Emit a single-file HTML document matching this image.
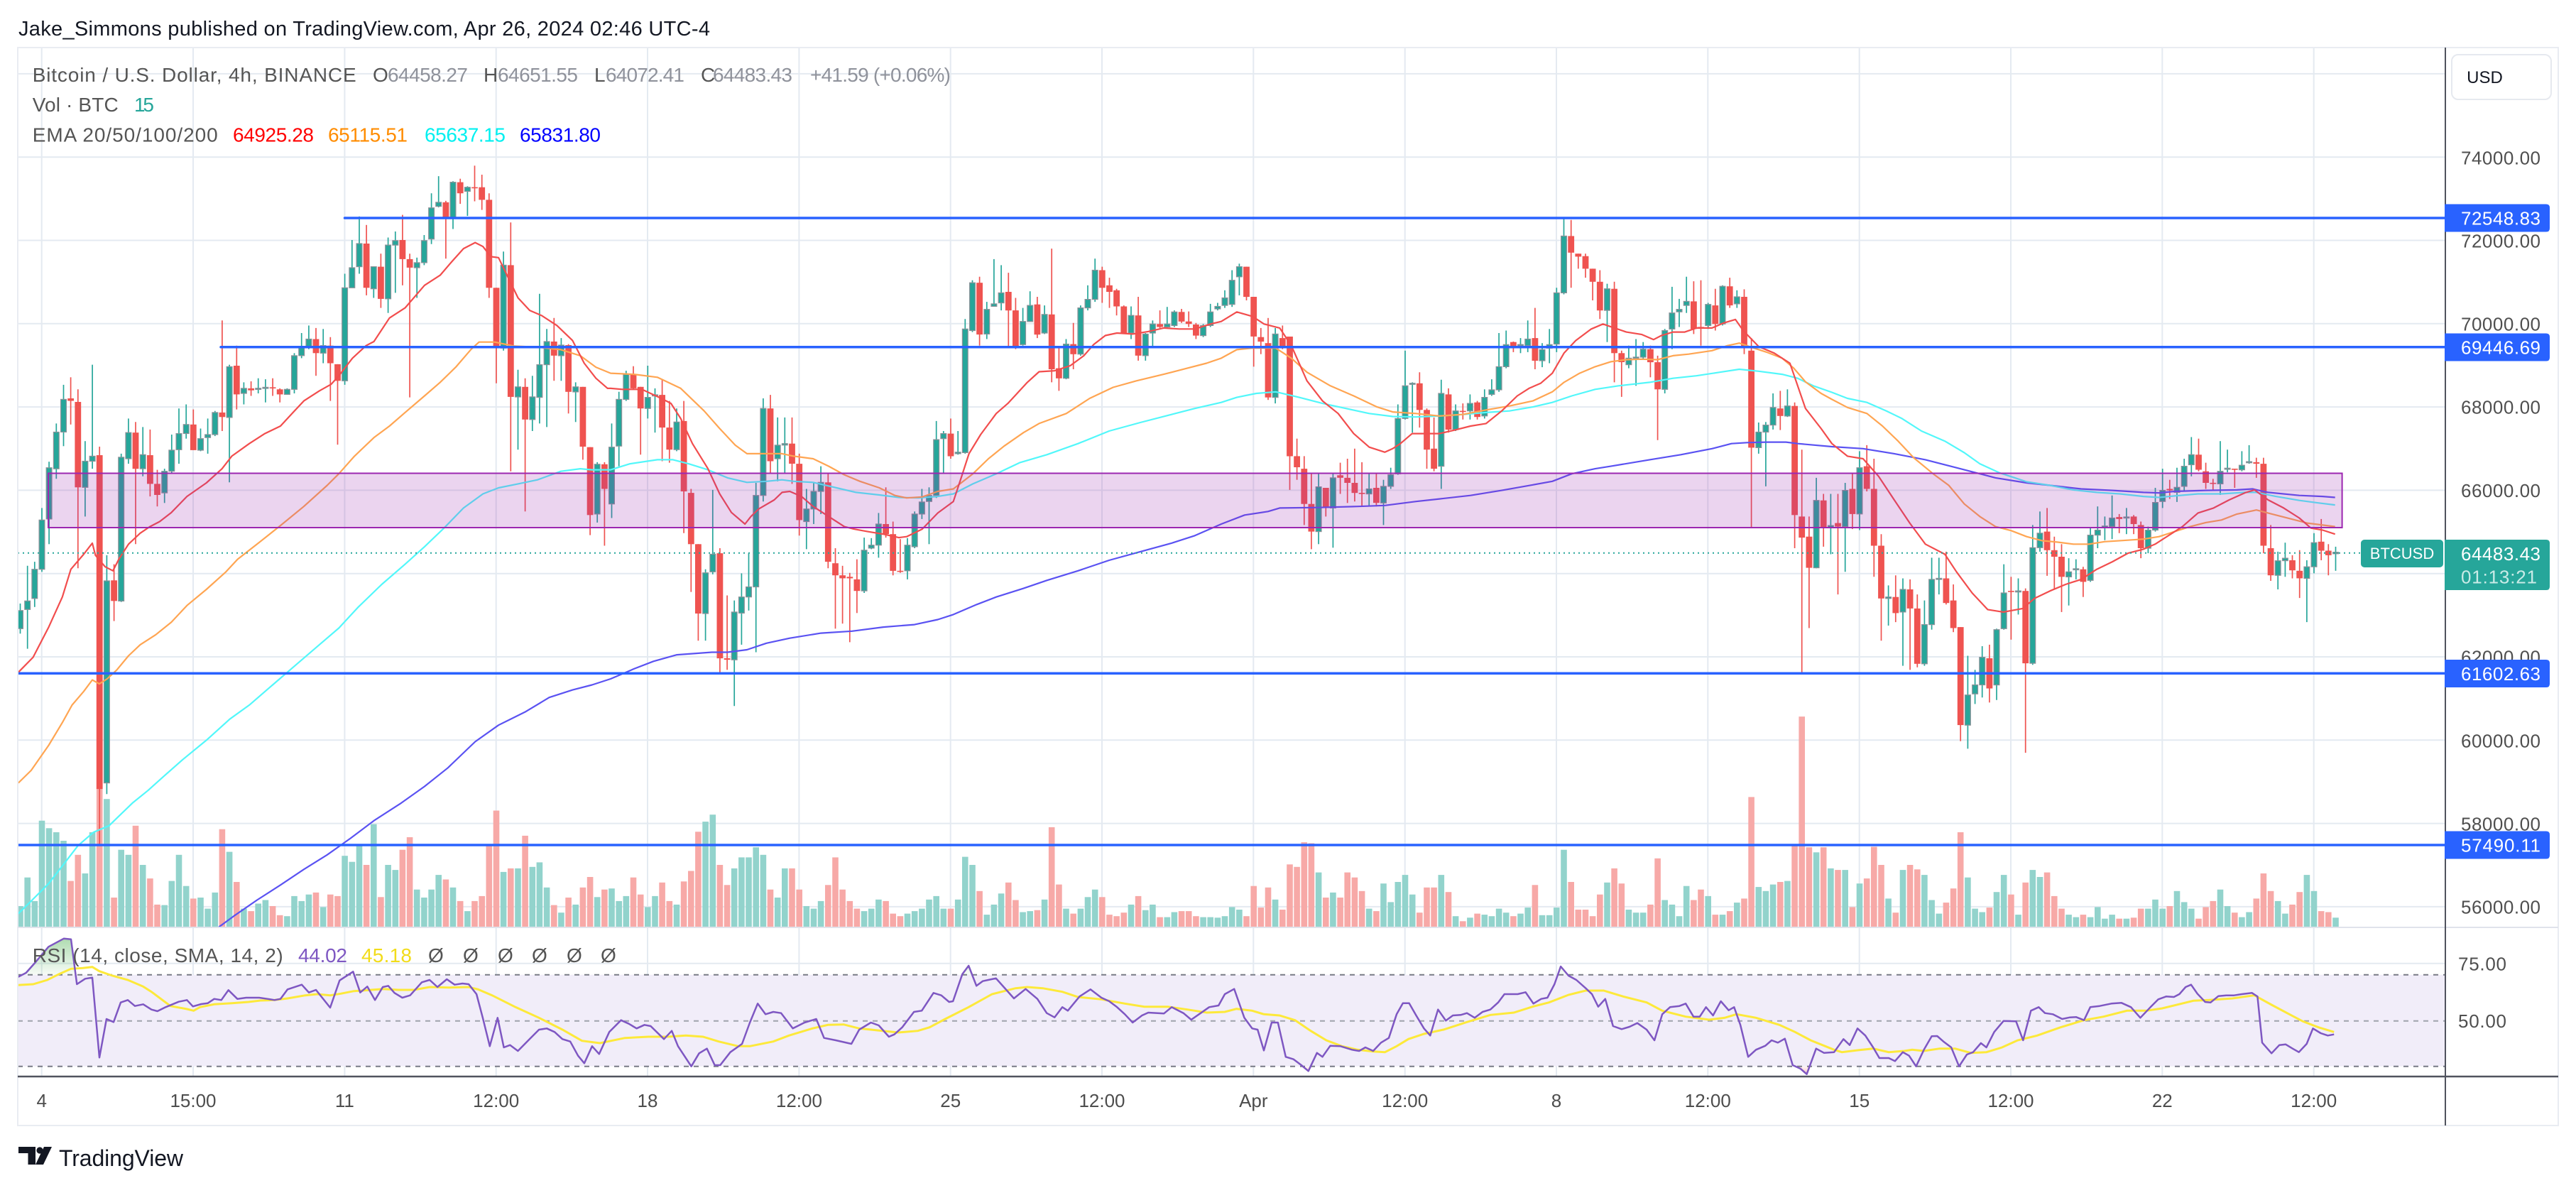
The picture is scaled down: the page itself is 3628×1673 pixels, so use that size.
<!DOCTYPE html>
<html><head><meta charset="utf-8">
<style>
html,body{margin:0;padding:0;background:#fff;}
body{width:3628px;height:1673px;overflow:hidden;}
svg{display:block;font-family:"Liberation Sans",sans-serif;}
</style></head>
<body>
<svg id="s" width="3628" height="1673" viewBox="0 0 3628 1673" xmlns="http://www.w3.org/2000/svg">
<defs>
<clipPath id="mc"><rect x="25" y="68" width="3419" height="1237"/></clipPath>
<clipPath id="rc"><rect x="25" y="1307" width="3419" height="209"/></clipPath>
<clipPath id="obc"><rect x="25" y="1300" width="3419" height="72.7"/></clipPath>
<clipPath id="osc"><rect x="25" y="1501.7" width="3419" height="14"/></clipPath>
<linearGradient id="gg" x1="0" y1="1315" x2="0" y2="1372.7" gradientUnits="userSpaceOnUse">
<stop offset="0" stop-color="#4caf50" stop-opacity="0.5"/><stop offset="1" stop-color="#4caf50" stop-opacity="0.05"/></linearGradient>
<linearGradient id="rg" x1="0" y1="1501.7" x2="0" y2="1516" gradientUnits="userSpaceOnUse">
<stop offset="0" stop-color="#ef5350" stop-opacity="0.05"/><stop offset="1" stop-color="#ef5350" stop-opacity="0.45"/></linearGradient>
</defs>
<rect x="0" y="0" width="3628" height="1673" fill="#fff"/>
<text x="26" y="50" font-size="29" fill="#131722" textLength="974" lengthAdjust="spacing">Jake_Simmons published on TradingView.com, Apr 26, 2024 02:46 UTC-4</text>

<g id="grid" stroke="#e4eaf1" stroke-width="2"></g>

<rect x="25" y="1372.7" width="3419" height="129" fill="#f1edf9"/>
<g stroke-width="2" stroke-dasharray="7,7">
<line x1="25" x2="3444" y1="1372.7" y2="1372.7" stroke="#787b86"/>
<line x1="25" x2="3444" y1="1437.7" y2="1437.7" stroke="#a0a3ac"/>
<line x1="25" x2="3444" y1="1501.7" y2="1501.7" stroke="#787b86"/>
</g>

<g clip-path="url(#mc)">
<g id="vol"></g>
<g id="cdl"></g>
<g id="ema" fill="none" stroke-width="2.2" stroke-linejoin="round"></g>
<rect x="68" y="666.5" width="3230.6" height="76.5" fill="rgba(156,39,176,0.2)" stroke="#9c27b0" stroke-width="2"/>
<g stroke="#2962ff" stroke-width="3.5" stroke-linecap="round">
<line x1="485.5" x2="3444" y1="307" y2="307"/>
<line x1="311" x2="3444" y1="488.8" y2="488.8"/>
<line x1="25" x2="3444" y1="948.3" y2="948.3"/>
<line x1="25" x2="3444" y1="1190" y2="1190"/>
</g>
<line x1="25" x2="3325" y1="778.7" y2="778.7" stroke="#26a69a" stroke-width="2" stroke-dasharray="2,5"/>
</g>

<g clip-path="url(#rc)" id="rsi" fill="none"></g>

<rect x="25" y="67" width="3578" height="1518" fill="none" stroke="#e9ecf2" stroke-width="2"/>
<line x1="25" x2="3603" y1="1306" y2="1306" stroke="#e0e3eb" stroke-width="2"/>
<line x1="25" x2="3603" y1="1516" y2="1516" stroke="#50535e" stroke-width="2.5"/>
<line x1="3444" x2="3444" y1="67" y2="1585" stroke="#50535e" stroke-width="2"/>

<g font-size="28">
<text x="45.7" y="115" fill="#555" textLength="456" lengthAdjust="spacing">Bitcoin / U.S. Dollar, 4h, BINANCE</text>
<text x="525" y="115" fill="#555">O</text><text x="546" y="115" fill="#8f929b" textLength="113" lengthAdjust="spacing">64458.27</text>
<text x="681" y="115" fill="#555">H</text><text x="701" y="115" fill="#8f929b" textLength="113" lengthAdjust="spacing">64651.55</text>
<text x="837" y="115" fill="#555">L</text><text x="853" y="115" fill="#8f929b" textLength="111" lengthAdjust="spacing">64072.41</text>
<text x="987" y="115" fill="#555">C</text><text x="1004" y="115" fill="#8f929b" textLength="112" lengthAdjust="spacing">64483.43</text>
<text x="1141" y="115" fill="#8f929b" textLength="198" lengthAdjust="spacing">+41.59 (+0.06%)</text>
<text x="45.7" y="157" fill="#555" textLength="121" lengthAdjust="spacing">Vol · BTC</text>
<text x="189" y="157" fill="#26a69a" textLength="28" lengthAdjust="spacing">15</text>
<text x="45.7" y="199.5" fill="#555" textLength="261" lengthAdjust="spacing">EMA 20/50/100/200</text>
<text x="328" y="199.5" fill="#ff0000" textLength="114" lengthAdjust="spacing">64925.28</text>
<text x="462" y="199.5" fill="#ff8c00" textLength="112" lengthAdjust="spacing">65115.51</text>
<text x="598" y="199.5" fill="#00f0f0" textLength="114" lengthAdjust="spacing">65637.15</text>
<text x="732" y="199.5" fill="#0000ff" textLength="114" lengthAdjust="spacing">65831.80</text>
<text x="45.7" y="1355" fill="#555" textLength="353" lengthAdjust="spacing">RSI (14, close, SMA, 14, 2)</text>
<text x="420" y="1355" fill="#7e57c2" textLength="69" lengthAdjust="spacing">44.02</text>
<text x="509" y="1355" fill="#f2dc1a" textLength="71" lengthAdjust="spacing">45.18</text>
<text x="603" y="1355" fill="#555">Ø</text><text x="652" y="1355" fill="#555">Ø</text><text x="701" y="1355" fill="#555">Ø</text>
<text x="749" y="1355" fill="#555">Ø</text><text x="798" y="1355" fill="#555">Ø</text><text x="846" y="1355" fill="#555">Ø</text>
</g>

<rect x="3453" y="77" width="140" height="63" rx="9" fill="#fff" stroke="#e6e9ef" stroke-width="2"/>
<text x="3499.5" y="117" font-size="24" fill="#131722" text-anchor="middle">USD</text>
<g font-size="26" fill="#4f4f4f">
<text x="3466" y="231.5" textLength="112" lengthAdjust="spacing">74000.00</text>
<text x="3466" y="348.5" textLength="112" lengthAdjust="spacing">72000.00</text>
<text x="3466" y="465.5" textLength="112" lengthAdjust="spacing">70000.00</text>
<text x="3466" y="582.5" textLength="112" lengthAdjust="spacing">68000.00</text>
<text x="3466" y="700" textLength="112" lengthAdjust="spacing">66000.00</text>
<text x="3466" y="934.5" textLength="112" lengthAdjust="spacing">62000.00</text>
<text x="3466" y="1052.5" textLength="112" lengthAdjust="spacing">60000.00</text>
<text x="3466" y="1169.5" textLength="112" lengthAdjust="spacing">58000.00</text>
<text x="3466" y="1286.5" textLength="112" lengthAdjust="spacing">56000.00</text>
<text x="3462" y="1366.5" textLength="68" lengthAdjust="spacing">75.00</text>
<text x="3462" y="1447" textLength="68" lengthAdjust="spacing">50.00</text>
</g>
<g fill="#2962ff">
<path d="M3443,287.5H3586Q3591,287.5 3591,292.5V321.5Q3591,326.5 3586,326.5H3443Z"/>
<path d="M3443,469.5H3586Q3591,469.5 3591,474.5V503.5Q3591,508.5 3586,508.5H3443Z"/>
<path d="M3443,929H3586Q3591,929 3591,934V963Q3591,968 3586,968H3443Z"/>
<path d="M3443,1170.5H3586Q3591,1170.5 3591,1175.5V1204.5Q3591,1209.5 3586,1209.5H3443Z"/>
</g>
<path d="M3443,760H3586Q3591,760 3591,765V826Q3591,831 3586,831H3443Z" fill="#26a69a"/>
<rect x="3325" y="760" width="116" height="39" rx="5" fill="#26a69a"/>
<g font-size="26" fill="#fff">
<text x="3466" y="316.5" textLength="112" lengthAdjust="spacing">72548.83</text>
<text x="3466" y="498.5" textLength="112" lengthAdjust="spacing">69446.69</text>
<text x="3466" y="958" textLength="112" lengthAdjust="spacing">61602.63</text>
<text x="3466" y="1199.5" textLength="112" lengthAdjust="spacing">57490.11</text>
<text x="3466" y="789" textLength="112" lengthAdjust="spacing">64483.43</text>
<text x="3466" y="821.5" fill="#c9ebe7" textLength="107" lengthAdjust="spacing">01:13:21</text>
</g>
<text x="3383" y="787" font-size="22" fill="#fff" text-anchor="middle">BTCUSD</text>

<g id="tax" font-size="26" fill="#4d4d4d" text-anchor="middle"></g>

<g fill="#131722">
<rect x="26" y="1615" width="24" height="9"/>
<rect x="39.5" y="1615" width="10.5" height="25"/>
<circle cx="56" cy="1620" r="4.6"/>
<path d="M62,1615H73L61,1640H50Z"/>
</g>
<text x="83" y="1642" font-size="32" fill="#131722" textLength="175" lengthAdjust="spacing">TradingView</text>
</svg>

<script>
(function(){
function $(id){return document.getElementById(id);}
var g='';
for(var k=0;k<16;k++){var x=(58.7+213.33*k).toFixed(1);g+='<line x1="'+x+'" x2="'+x+'" y1="68" y2="1515"/>';}
for(var p=76000;p>=56000;p-=2000){var y=(221.2+(74000-p)*0.05865).toFixed(1);g+='<line x1="25" x2="3444" y1="'+y+'" y2="'+y+'"/>';}
g+='<line x1="25" x2="3444" y1="1356.7" y2="1356.7"/>';
$('grid').innerHTML=g;
var L=['4','15:00','11','12:00','18','12:00','25','12:00','Apr','12:00','8','12:00','15','12:00','22','12:00'];
var t='';for(var k=0;k<16;k++){t+='<text x="'+(58.7+213.33*k).toFixed(1)+'" y="1559">'+L[k]+'</text>';}
$('tax').innerHTML=t;

var Z6=[[1,932,968,918,978,1520],[1,913,930,843,1008,1463],[1,850,908,835,925,1510],[1,752,850,728,855,1350],[1,648,750,636,800,1365],[1,577,650,560,670,1373],[1,512,577,483,605,1390],[0,510,515,468,562,1470],[0,517,687,492,848,1418],[1,635,687,595,745,1455],[1,625,635,443,650,1373],[0,623,1287,606,1400,1285],[1,873,1275,822,1297,1307],[0,872,913,840,953,1503],[1,627,913,620,915,1408],[1,578,630,550,640,1418],[0,578,650,557,800,1360],[1,622,650,567,665,1438],[0,623,680,572,705,1465],[0,680,702,652,725,1517],[1,655,698,650,718,1518],[1,613,655,582,660,1470],[1,580,612,530,640,1418],[1,562,580,522,590,1480],[0,562,613,532,613,1505],[1,590,613,570,615,1503],[1,582,588,550,620,1525],[1,538,582,535,585,1493],[0,538,547,355,575,1367],[1,447,548,443,677,1412],[0,445,502,405,532,1472],[1,490,500,478,522,1525],[0,490,494,476,505,1530],[1,490,492,470,500,1515],[1,488,490,472,518,1508],[0,488,490,470,505,1520],[0,492,502,490,518,1538],[1,492,502,490,502,1540],[1,425,492,420,500,1500],[1,408,425,380,430,1510],[1,392,408,365,412,1497],[0,392,420,370,465,1493],[1,405,420,372,440,1522],[0,405,440,388,515,1497],[0,442,475,442,602,1500],[1,290,475,262,483,1420],[1,250,290,195,290,1432],[1,202,248,148,262,1400],[0,202,290,165,305,1438],[1,248,292,248,310,1357],[0,248,312,222,330,1502],[1,205,312,190,340,1438],[1,196,205,178,300,1448],[0,195,233,145,285,1408],[0,233,250,222,508,1383],[1,240,250,230,310,1487],[1,196,240,185,245,1503],[1,131,193,102,203,1487],[1,120,128,68,130,1458],[0,120,150,117,232,1467],[1,80,150,78,173,1483],[0,80,102,73,123,1510],[1,90,98,88,147,1530],[0,90,92,47,118,1510],[0,90,115,65,135,1500],[0,115,290,102,310,1397],[0,290,410,290,480,1330],[1,245,410,218,415,1452],[0,245,507,160,655,1445],[1,487,507,453,612,1445],[0,487,552,470,735,1380],[1,507,552,465,575,1442],[1,443,508,302,560,1433],[1,397,443,372,567,1483],[0,397,425,350,475,1518],[1,404,425,390,475,1533],[0,404,497,402,540,1503],[1,487,497,478,557,1517],[0,487,606,487,632,1483],[0,607,742,607,782,1462],[1,641,740,637,757,1502],[0,641,690,637,803,1487],[1,607,720,560,748,1485]];
var Z7=[[1,512,605,497,645,1510],[1,462,512,455,515,1500],[0,462,490,446,492,1463],[0,487,530,487,622,1497],[1,508,530,445,550,1522],[1,503,505,490,578,1500],[0,503,568,472,635,1473],[0,568,612,515,638,1510],[1,557,612,530,615,1517],[0,555,695,515,778,1471],[0,698,800,690,895,1450],[0,800,938,800,992,1372],[1,857,938,850,992,1352],[1,820,855,692,860,1338],[0,818,1027,808,1058,1438],[0,1027,1030,902,1050,1478],[1,935,1030,912,1122,1445],[1,905,937,858,1000,1423],[1,885,905,818,932,1423],[1,703,885,678,1015,1403],[1,530,703,510,715,1418],[0,530,635,503,660,1487],[1,603,630,548,675,1503],[1,600,603,548,660,1445],[0,600,640,548,680,1445],[0,640,752,620,783,1487],[1,730,755,690,810,1520],[1,695,730,678,760,1525],[1,677,695,645,740,1510],[0,677,835,660,848,1478],[0,838,862,808,968,1423],[0,862,868,843,958,1487],[0,865,868,857,995,1510],[0,870,893,830,937,1525],[1,812,893,787,897,1530],[1,802,808,788,810,1525],[1,760,802,738,827,1507],[0,760,780,687,787,1510],[0,780,853,755,862,1535],[0,853,855,790,857,1540],[1,802,853,788,870,1535],[1,740,805,735,808,1530],[1,716,740,690,750,1525],[1,703,715,687,800,1507],[1,592,703,555,708,1500],[1,580,590,575,658,1525],[0,580,625,550,630,1525],[1,617,620,575,622,1507],[1,372,618,352,620,1422],[1,280,375,275,378,1438],[0,280,383,268,405,1490],[1,333,382,318,392,1537],[1,322,327,233,325,1517],[1,300,320,245,335,1495],[0,298,335,260,408,1473],[0,335,407,310,412,1508],[1,357,403,330,405,1532],[1,325,357,297,355,1530],[0,323,383,308,390,1528],[1,343,380,325,382,1507],[0,343,452,212,478,1363],[0,450,470,410,495,1477],[1,402,470,392,472,1525],[0,402,422,360,452,1535],[1,330,422,325,425,1525],[1,313,330,285,335,1502],[1,255,313,232,318,1487],[0,255,290,248,320,1502],[0,285,298,270,330,1537],[0,295,327,292,345,1540],[0,327,380,325,380,1533],[1,345,380,327,392,1517],[0,345,425,308,435,1500],[1,382,425,380,435,1528],[1,362,380,355,410,1517],[0,362,368,335,370,1542],[1,362,368,328,370,1542],[1,338,365,335,368,1532],[0,338,357,332,360,1530],[0,357,362,337,368,1530],[0,363,385,360,392,1540],[1,365,385,362,388,1542],[1,338,365,322,368,1542],[1,327,332,320,335,1543],[1,310,325,295,330,1540]];
var Z8=[[1,275,323,255,328,1522],[1,248,268,242,305,1527],[0,248,308,248,315,1540],[0,308,387,308,447,1480],[0,388,397,370,422,1523],[0,400,508,350,513,1483],[1,382,508,370,520,1507],[0,390,410,365,412,1527],[0,387,625,387,692,1437],[0,625,647,590,672,1442],[0,650,720,625,762,1393],[0,720,775,660,810,1395],[1,686,775,660,800,1453],[0,688,728,688,745,1503],[1,668,728,660,807,1493],[0,663,668,638,700,1503],[0,668,678,630,718,1453],[0,678,698,610,715,1463],[0,698,700,637,725,1490],[1,690,700,660,725,1525],[0,688,718,660,725,1530],[1,685,718,672,762,1475],[1,662,685,648,690,1512],[1,550,660,522,662,1472],[1,485,550,415,552,1458],[1,480,482,478,578,1497],[0,480,533,458,568,1533],[0,533,612,530,650,1483],[0,610,650,548,655,1483],[1,500,645,473,690,1458],[0,502,572,490,578,1492],[1,535,572,522,575,1540],[0,535,537,520,552,1550],[1,520,535,502,552,1543],[0,518,547,515,552,1535],[1,508,545,492,550,1537],[1,493,502,472,505,1540],[1,447,493,380,497,1525],[1,403,447,375,450,1533],[0,398,408,397,418,1540],[1,403,405,390,420,1535],[1,392,405,355,418,1523],[0,390,435,330,452,1478],[1,413,435,400,448,1538],[1,403,410,372,440,1538],[1,300,402,290,418,1523],[1,187,300,152,303,1408],[0,187,220,155,290,1472],[0,222,228,222,252,1527],[0,227,252,222,270,1527],[0,252,278,252,315,1540],[0,278,335,255,352,1497],[1,292,335,282,398,1473],[0,292,420,278,478,1445],[0,420,438,415,507,1475],[1,430,443,405,450,1527],[1,428,430,392,485,1533],[1,412,428,398,432,1533],[0,412,438,405,468,1517],[0,438,492,425,593,1425],[1,375,492,372,500,1508],[1,340,372,288,412,1517],[1,333,338,312,368,1540],[1,317,325,268,340,1480],[0,317,372,277,382,1508],[0,368,370,275,405,1487],[1,323,365,320,372,1500],[0,325,362,292,375,1537],[1,287,362,285,365,1537],[0,287,325,270,330,1530],[1,308,322,295,330,1513],[0,308,410,293,422,1505],[0,415,608,390,768,1303],[1,577,608,558,620,1482],[1,563,577,557,685,1490],[1,528,563,500,572,1477],[0,530,545,495,573,1472],[1,525,545,492,547,1470],[0,525,742,518,808,1400],[0,745,787,612,1057,1143],[0,785,847,745,967,1403],[1,713,847,668,848,1413],[0,713,767,700,805,1403],[1,763,767,700,820,1445]];
var Z9=[[0,758,765,700,900,1448],[1,693,765,678,855,1448],[0,690,740,660,770,1522],[1,648,740,615,772,1475],[0,645,690,603,695,1465],[0,690,803,630,865,1402],[0,803,908,780,992,1438],[1,905,908,882,962,1505],[0,905,937,862,955,1533],[1,890,935,868,1042,1448],[0,890,928,870,1050,1438],[0,928,1038,900,1045,1447],[1,960,1038,912,1042,1458],[1,870,960,827,970,1508],[1,868,870,827,900,1535],[0,868,917,815,920,1513],[0,912,967,880,975,1485],[0,965,1160,965,1192,1373],[1,1100,1160,1022,1207,1463],[1,1080,1098,1050,1118,1525],[1,1025,1080,1003,1105,1532],[0,1027,1087,1000,1115,1523],[1,970,1080,968,1110,1492],[1,897,968,840,970,1458],[0,893,895,865,990,1497],[1,893,895,868,940,1537],[0,893,1037,888,1215,1473],[1,807,1037,762,1040,1448],[1,778,807,735,815,1462],[0,775,812,728,863,1453],[0,812,825,785,890,1500],[0,825,865,800,935,1525],[1,855,865,828,922,1537],[1,849,851,830,870,1542],[0,850,875,845,905,1537],[1,782,872,768,875,1542],[1,772,782,725,808,1522],[1,764,767,745,792,1545],[1,748,765,703,790,1537],[0,746,750,740,778,1545],[1,746,748,728,780,1545],[0,745,760,742,780,1543],[0,762,808,755,828,1525],[1,772,808,765,818,1525],[1,717,772,688,775,1507],[1,693,715,650,728,1525],[0,690,693,672,710,1520],[1,687,697,648,716,1490],[1,645,685,630,695,1512],[1,622,642,587,665,1525],[0,622,652,590,655,1545],[0,655,678,638,690,1522],[0,678,680,670,692,1510],[1,655,680,595,702,1487],[1,649,651,612,657,1520],[0,650,652,650,688,1533],[1,643,652,615,655,1542],[1,636,638,603,640,1532],[0,637,640,628,668,1505],[0,640,803,628,818,1455],[0,808,862,762,873,1490],[1,833,862,815,890,1510],[1,828,833,797,865,1535],[0,832,852,822,868,1517],[0,853,868,812,907,1492],[1,845,868,832,955,1458],[1,797,845,778,858,1490],[0,795,813,750,832,1530],[0,813,822,800,862,1532],[1,816,819,805,853,1543]];
var all=Z6.concat(Z7,Z8,Z9);
var N=all.length, X0=28.5, DX=(3289.5-28.5)/(N-1);
function Y(py){return 200+py*0.70791;}
var vs='',cs='';
for(var i=0;i<N;i++){
 var d=all[i],x=X0+DX*i,gr=d[0]===1;
 var col=gr?'#26a69a':'#ef5350',vc=gr?'#92d3cc':'#f7a9a7';
 var vt=Y(d[5]);
 vs+='<rect x="'+(x-4.3).toFixed(1)+'" y="'+vt.toFixed(1)+'" width="8.6" height="'+(1305-vt).toFixed(1)+'" fill="'+vc+'"/>';
 var bt=Y(Math.min(d[1],d[2])),bb=Y(Math.max(d[1],d[2]));
 var wt=Math.min(Y(d[3]),bt),wb=Math.max(Y(d[4]),bb);
 cs+='<line x1="'+x.toFixed(1)+'" x2="'+x.toFixed(1)+'" y1="'+wt.toFixed(1)+'" y2="'+wb.toFixed(1)+'" stroke="'+col+'" stroke-width="1.7"/>';
 if(bb-bt<1.6){var m=(bt+bb)/2;bt=m-0.8;bb=m+0.8;}
 if(gr){cs+='<rect x="'+(x-3.9).toFixed(1)+'" y="'+bt.toFixed(1)+'" width="7.8" height="'+(bb-bt).toFixed(1)+'" fill="'+col+'" stroke="#8c9198" stroke-width="1.2"/>';}
 else{cs+='<rect x="'+(x-4.4).toFixed(1)+'" y="'+bt.toFixed(1)+'" width="8.8" height="'+(bb-bt).toFixed(1)+'" fill="'+col+'"/>';}
}
$('vol').innerHTML=vs;$('cdl').innerHTML=cs;

function pts(arr,ox,sx,oy,sy){var s='';for(var i=0;i<arr.length;i+=2){s+=(ox+arr[i]*sx).toFixed(1)+','+(oy+arr[i+1]*sy).toFixed(1)+' ';}return s;}
function main4(a,b,c,d){var S=0.54855,T=0.70791;return pts(a,0,S,200,T)+pts(b,860,S,200,T)+pts(c,1720,S,200,T)+pts(d,2580,S,200,T);}
var E20=main4(
[47,1055,85,1025,125,965,160,905,182,850,215,820,237,798,245,822,270,845,290,853,305,830,330,800,360,778,385,765,410,755,440,737,480,705,530,678,570,650,595,625,640,600,680,580,720,565,750,540,780,515,820,495,850,482,870,465,905,430,940,405,960,397,1000,350,1040,330,1090,285,1130,265,1160,238,1190,212,1220,200,1240,208,1260,228,1280,230,1300,262,1330,310,1360,335,1390,345,1430,365,1470,395,1500,440,1530,470,1560,490],
[0,490,30,492,80,492,130,510,155,520,180,550,210,600,250,650,280,700,310,737,345,760,360,745,380,730,420,712,440,697,460,695,490,705,520,725,560,745,600,765,625,770,660,775,700,780,740,787,760,785,800,770,840,738,880,715,900,668,920,620,950,582,990,540,1020,520,1070,478,1100,457,1140,455,1180,445,1215,425,1240,403,1270,385,1300,380,1340,382,1380,377,1420,370,1460,372,1500,372,1540,362],
[0,357,40,338,80,347,110,362,150,370,180,405,220,475,260,515,300,540,340,580,380,607,420,617,440,610,460,600,490,580,520,580,560,580,600,573,640,565,680,560,720,535,760,505,790,490,820,480,850,460,880,420,910,395,950,372,980,362,1010,370,1040,378,1080,383,1110,393,1130,385,1160,378,1190,378,1220,370,1260,370,1290,360,1320,353,1340,375,1380,407,1420,420,1460,440,1500,530,1540,570],
[0,600,40,625,80,630,120,665,160,712,200,758,240,800,290,820,320,855,360,897,400,930,440,935,490,928,520,908,560,893,600,880,640,870,680,850,720,835,760,818,800,810,830,800,870,780,900,765,940,738,980,728,1020,712,1060,698,1085,692,1120,712,1160,728,1200,748,1230,768,1260,772,1292,780]);
var E50=main4(
[47,1275,80,1250,125,1200,160,1155,185,1120,215,1093,237,1070,255,1078,275,1068,300,1050,330,1022,360,1000,400,980,440,955,480,922,530,890,580,855,610,830,660,800,720,763,780,725,840,683,870,660,910,625,960,588,1000,565,1040,538,1090,505,1130,478,1170,448,1210,412,1230,398,1270,398,1320,406,1380,408,1440,413,1490,425,1530,448],
[0,460,60,462,120,468,180,490,240,535,280,570,320,603,350,620,370,620,400,620,440,620,470,625,520,630,560,645,600,662,640,675,690,688,730,703,760,708,800,706,840,695,880,690,900,678,930,660,970,630,1010,605,1060,578,1100,560,1170,540,1230,510,1290,488,1350,475,1420,462,1480,450,1530,440],
[0,430,40,413,80,410,140,410,180,430,220,458,280,485,340,505,400,527,440,537,500,540,560,545,620,542,680,533,740,525,800,515,850,497,880,478,920,460,960,447,1000,437,1040,433,1080,432,1120,433,1160,425,1200,422,1260,415,1300,405,1330,400,1360,408,1400,418,1440,430,1470,450,1500,477,1540,500],
[0,512,40,528,90,540,130,565,170,595,210,628,260,660,300,683,340,720,380,745,420,765,460,773,500,785,540,793,580,796,620,800,660,800,700,795,760,792,800,790,840,785,880,775,920,765,960,757,1000,752,1040,740,1090,732,1130,740,1180,750,1220,758,1260,762,1292,765]);
var E100=main4(
[47,1535,80,1510,125,1475,160,1440,200,1400,240,1373,280,1360,300,1345,340,1315,380,1290,420,1262,470,1228,530,1190,590,1148,640,1120,700,1080,760,1040,820,1000,870,967,920,925,980,880,1040,840,1090,805,1140,768,1190,728,1240,700,1280,688,1330,680,1380,672,1440,655,1490,650,1520,652],
[0,652,50,640,120,632,160,632,200,640,250,652,300,668,350,677,400,675,440,672,470,675,520,677,580,688,630,697,690,702,740,707,790,708,840,705,880,700,930,680,990,660,1050,638,1120,622,1200,600,1280,575,1360,558,1440,542,1500,530],
[0,518,40,508,90,500,140,497,200,508,260,520,320,530,380,540,440,546,500,547,560,545,620,542,680,538,740,535,800,527,850,518,900,505,960,492,1020,485,1100,478,1160,470,1220,465,1280,458,1330,452,1380,456,1440,462,1480,470,1520,485],
[0,498,40,510,90,518,140,535,180,550,230,575,290,595,340,618,380,640,430,658,470,668,500,676,560,683,620,692,680,697,740,700,800,705,840,707,880,704,940,700,1000,700,1060,697,1090,697,1140,705,1200,713,1250,718,1292,722]);
var E200=main4(
[540,1575,565,1560,600,1540,660,1508,720,1478,780,1447,840,1418,900,1385,960,1350,1030,1315,1090,1282,1150,1245,1220,1193,1280,1160,1350,1133,1410,1105,1470,1090,1520,1080],
[0,1068,60,1048,110,1033,170,1020,260,1015,300,1015,350,1010,400,997,460,987,540,977,620,973,700,965,780,960,840,950,880,940,940,920,990,905,1060,888,1120,872,1200,853,1280,832,1360,815,1440,798,1500,783],
[0,760,60,742,120,735,150,728,250,727,350,725,420,723,500,715,560,710,640,703,720,693,800,682,850,675,900,660,960,650,1000,645,1100,632,1180,622,1260,610,1310,600,1350,598,1400,597,1450,597,1480,600],
[0,606,80,610,160,620,240,632,320,648,380,660,420,668,500,678,560,683,640,690,720,693,800,697,840,698,880,695,960,693,1040,692,1080,690,1120,697,1200,703,1260,705,1292,707]);
$('ema').innerHTML=
'<polyline points="'+E200+'" stroke="#5a52f2"/>'+
'<polyline points="'+E100+'" stroke="#52f7fa"/>'+
'<polyline points="'+E50+'" stroke="#ffa552"/>'+
'<polyline points="'+E20+'" stroke="#f24d4d"/>';

var R=pts([75,228,110,210,150,165,205,100,270,65,300,68,325,258,360,235,390,230,420,568,450,405,480,418,510,335,540,325,570,350,605,343,640,365,665,372,700,355,755,332,790,325,815,352,850,342,878,338,905,320,935,325,965,283,1003,320,1040,315,1095,315,1130,320,1160,325,1185,320,1215,280,1275,260,1305,293,1335,282,1395,357,1435,242,1492,205,1522,293,1552,268],0,1/3,1300,1/3)
+pts([480,325,490,270,497,265,505,295,515,315,525,305,540,250,550,240,560,270,572,237,582,260,592,255,600,258,610,300,618,400,627,520,637,400,645,525,653,515,663,540,678,490,690,450,700,445,710,460,720,490,730,500,740,560,748,592,758,520,767,553,780,460,795,410,805,425,815,445,825,430,833,435,850,490,860,455,868,520,885,605,895,550,905,530,915,600,922,600,935,545,950,510,960,420,970,340,980,385,990,375,1000,380,1015,445,1030,420,1045,405,1055,485,1070,495,1090,510,1100,450,1115,420,1125,432,1138,480,1145,470,1155,440,1170,375,1180,370,1195,295,1205,305,1215,333,1220,330,1232,215,1240,180,1250,265,1258,245,1275,233,1285,270,1298,318,1313,278,1328,320,1340,380,1350,398,1360,355,1367,370,1382,310,1396,280,1410,315,1420,330,1430,355,1440,385,1450,420,1462,390,1470,378,1490,382,1500,355,1515,380,1525,408,1535,385,1548,355,1560,348],0,1.10013,1300,1/3)
+pts([0,300,12,278,25,400,35,445,42,450,50,538,60,420,68,420,78,565,88,575,98,600,107,625,118,548,125,565,135,518,148,520,163,535,172,540,180,525,190,540,200,505,210,485,220,385,228,338,236,338,245,390,255,445,263,475,273,365,283,412,292,390,302,388,310,380,320,400,330,375,340,365,350,335,358,300,375,300,385,292,395,340,405,320,413,315,422,258,430,183,440,222,450,240,462,275,470,300,478,353,487,320,497,435,508,448,518,438,528,422,540,450,550,495,560,385,570,355,582,350,590,340,600,395,608,395,616,355,625,390,635,330,645,368,652,355,660,430,670,565,680,535,692,518,700,495,708,505,717,488,727,600,737,615,745,638,757,530,767,548,780,545,792,490,800,515,810,445,820,475,830,525,838,570,850,570,858,583,868,545,876,560,885,605,895,535,905,478,912,477,920,500,930,525,940,605,950,555,958,545,968,507,975,525,985,460,997,413,1013,415,1022,495,1032,370,1042,355,1050,380,1060,385,1072,405,1082,398,1090,397,1100,410,1108,355,1120,350,1135,340,1148,337,1160,355,1172,400,1185,355,1195,322,1205,310,1215,312,1222,300,1230,270,1237,260,1245,298,1255,333,1262,335,1272,308,1282,305,1292,305,1302,300,1315,295,1322,310,1328,505,1340,550,1350,515,1358,512,1367,530,1375,545,1385,510,1393,445,1403,465,1412,475,1420,470],1725,1.10013,1300,1/3);
var S=pts([75,262,140,258,200,240,250,215,300,193,350,190,390,185,420,203,475,222,540,240,605,268,640,290,720,350,790,363,818,370,845,355,905,343,980,338,1050,333,1100,327,1160,325,1215,318,1290,305,1340,300,1395,305,1440,298,1495,287,1560,283],0,1/3,1300,1/3)
+pts([490,278,510,282,530,282,550,270,575,272,600,270,612,280,630,305,660,355,690,400,720,450,745,497,768,507,800,485,830,480,855,480,878,475,900,480,920,500,945,520,960,520,990,500,1010,475,1040,445,1060,430,1080,428,1100,445,1130,455,1150,462,1175,455,1190,440,1210,405,1240,355,1270,300,1300,275,1315,270,1335,275,1360,290,1380,312,1410,322,1440,340,1465,353,1495,353,1520,365,1545,378,1568,375],0,1.10013,1300,1/3)
+pts([15,362,35,370,50,385,70,390,90,410,110,455,130,495,150,520,170,535,190,542,205,545,220,520,235,490,255,468,280,450,310,418,340,388,370,378,395,352,415,335,440,303,462,285,485,285,510,310,540,335,560,370,590,395,620,408,640,400,655,385,680,400,710,430,730,460,750,495,780,535,790,545,810,537,830,530,850,545,870,540,880,535,895,540,915,530,935,530,955,548,975,545,995,525,1015,495,1040,475,1070,440,1100,410,1125,395,1155,370,1180,370,1200,360,1225,340,1240,328,1260,325,1290,318,1318,305,1340,345,1360,380,1380,415,1400,440,1420,460],1725,1.10013,1300,1/3);
var rp=R.trim().split(' ');
var first=rp[0].split(','),last=rp[rp.length-1].split(',');
var ob='M'+first[0]+',1372.7 L'+rp.join(' L')+' L'+last[0]+',1372.7 Z';
var os='M'+first[0]+',1501.7 L'+rp.join(' L')+' L'+last[0]+',1501.7 Z';
$('rsi').innerHTML=
'<path d="'+ob+'" fill="url(#gg)" stroke="none" clip-path="url(#obc)"/>'+
'<path d="'+os+'" fill="url(#rg)" stroke="none" clip-path="url(#osc)"/>'+
'<polyline points="'+S+'" stroke="#fde93a" stroke-width="3"/>'+
'<polyline points="'+R+'" stroke="#7e57c2" stroke-width="2.5" stroke-linejoin="round"/>';
})();
</script>
</body></html>
